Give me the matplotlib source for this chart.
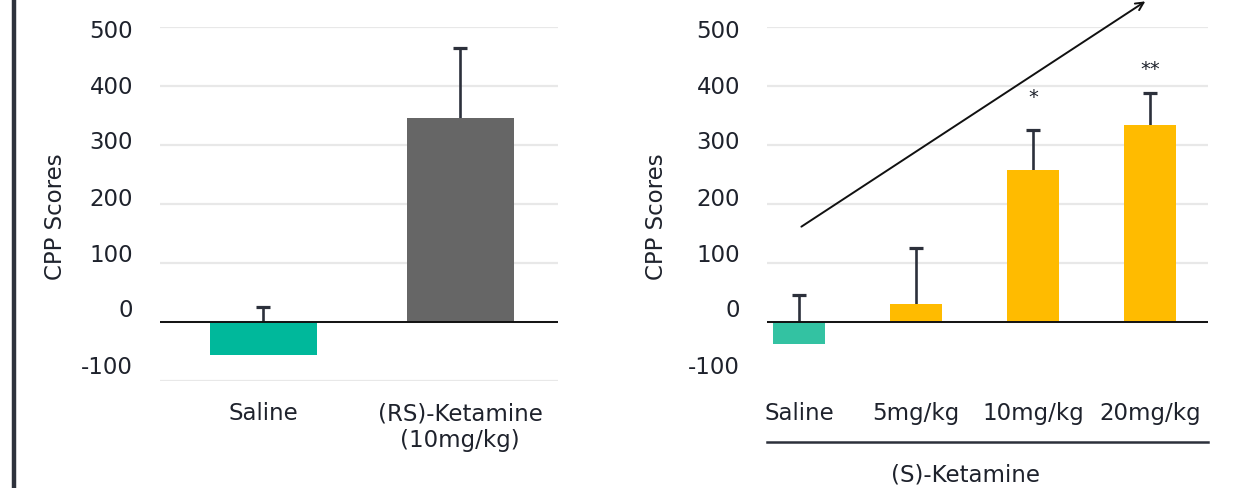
import matplotlib.pyplot as plt
import numpy as np

# DATA ------------------------------------------------------
rs_groups = ["Saline", "(RS)-Ketamine\n(10mg/kg)"]
rs_means = [-56, 346]
rs_err_top = [26, 464]

s_groups = ["Saline", "5mg/kg", "10mg/kg", "20mg/kg"]
s_means = [-37, 30, 258, 334]
s_err_top = [46, 125, 325, 388]
s_stars = ["", "", "*", "**"]
s_star_y = [0, 0, 383, 430]

grid_vals = [-100, 0, 100, 200, 300, 400, 500]
tick_text = ["-100", "0", "100", "200", "300", "400", "500"]
# tick labels sit a little above their gridlines, drifting with height
tick_pos = [-71, 25, 119, 214, 311, 403, 498]

# Style ------------------------------------------------------
plt.rcParams["font.family"] = ["DejaVu Sans"]
TXT = "#1e222c"
ERR = "#2c303b"
GRID = "#e8e8e8"
FS = 16.5

fig = plt.figure(figsize=(12.33, 4.89), dpi=100)
W, H = 1233, 489


def px_axes(x0, x1, y0, y1):
    return fig.add_axes([x0 / W, 1 - y1 / H, (x1 - x0) / W, (y1 - y0) / H])


def base(ax, grid, xlim):
    ax.set_xlim(*xlim)
    ax.set_ylim(-100, 500)
    for s in ax.spines.values():
        s.set_visible(False)
    for g in grid:
        ax.axhline(g, color=GRID, lw=1.6, zorder=0)
    ax.axhline(0, color="#111111", lw=1.4, zorder=4)
    ax.set_yticks(tick_pos, tick_text)
    ax.tick_params(axis="y", length=0, pad=19.5, labelsize=FS, labelcolor=TXT)
    ax.tick_params(axis="x", length=0, pad=0, labelsize=FS, labelcolor=TXT)
    ax.set_ylabel("CPP Scores", fontsize=FS, color=TXT)


def bars(ax, means, tops, colors, width):
    x = np.arange(len(means))
    # upper error only: stem from the bar top (or baseline) up, cap at the top
    ax.vlines(x, np.maximum(means, 0), tops, color=ERR, lw=1.9, zorder=1)
    ax.plot(x, tops, ls="none", marker="_", ms=10.5, mew=2.3, color=ERR, zorder=1)
    ax.bar(x, means, width=width, color=colors, zorder=2)
    return x


# Left panel: (RS)-Ketamine
# ----------------------------------------------------------------------------------------------------------------------
ax1 = px_axes(160, 558, 28, 382)
base(ax1, grid_vals, (-0.524, 1.496))
x1 = bars(ax1, rs_means, rs_err_top, ["#00b89b", "#666666"], 0.545)
ax1.set_xticks(x1, [])
for xi, lab in zip(x1, rs_groups):
    ax1.text(xi, -134, lab, ha="center", va="top", fontsize=FS, color=TXT,
             linespacing=1.2)
ax1.yaxis.set_label_coords(-0.234, 0.466)

# Right panel: (S)-Ketamine dose response
# ----------------------------------------------------------------------------------------------------------------------
ax2 = px_axes(767, 1208, 28, 382)
base(ax2, grid_vals[1:], (-0.274, 3.496))
x2 = bars(ax2, s_means, s_err_top, ["#33c2a2", "#ffbb00", "#ffbb00", "#ffbb00"], 0.44)
ax2.set_xticks(x2, [])
for xi, lab in zip(x2, s_groups):
    ax2.text(xi, -134, lab, ha="center", va="top", fontsize=FS, color=TXT)
for xi, st, sy in zip(x2, s_stars, s_star_y):
    if st:
        ax2.text(xi, sy, st, ha="center", va="center", fontsize=14, color=TXT)
ax2.yaxis.set_label_coords(-0.224, 0.466)

# group bracket under the dose labels
ax2.plot([-0.274, 3.496], [-204, -204], color=ERR, lw=1.8, clip_on=False)
ax2.text(1.42, -258, "(S)-Ketamine", ha="center", va="center", fontsize=FS,
         color=TXT)

# trend arrow
ax2.annotate("", xy=(2.98, 546), xytext=(0.0, 159),
             arrowprops=dict(arrowstyle="->", color="#111111", lw=1.4,
                             mutation_scale=14), annotation_clip=False)

# page edge bar
fig.add_artist(plt.Line2D([14 / W, 14 / W], [0, 1], color="#2e323c", lw=3.2))

fig.savefig("out.png", dpi=100)
